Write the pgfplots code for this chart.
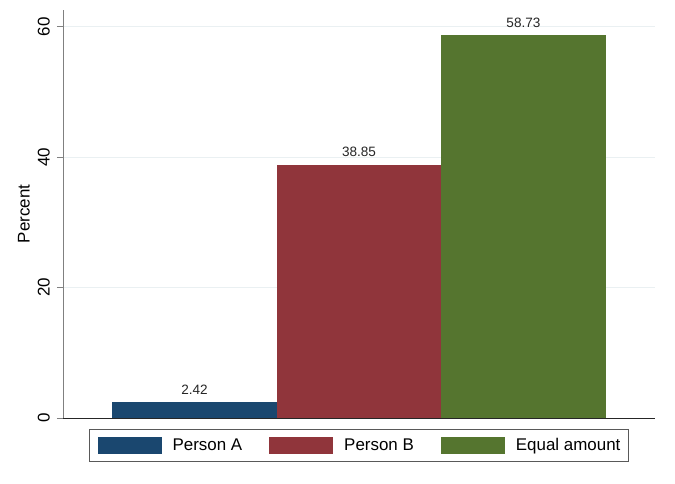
\documentclass[border=0pt]{standalone}
\usepackage{fontspec}
\setmainfont{Liberation Sans}
\usepackage{pgfplots}
\pgfplotsset{compat=1.18}

\definecolor{stnavy}{RGB}{26,71,111}
\definecolor{stmaroon}{RGB}{144,53,59}
\definecolor{stgreen}{RGB}{85,117,47}
\definecolor{stgrid}{RGB}{234,240,242}

\newcommand{\medfont}{\fontsize{17}{20}\selectfont}
\newcommand{\smallfont}{\fontsize{13.6}{16}\selectfont}

\pgfplotsset{
  statabar/.style={
    ybar, bar width=1, bar shift=0pt,
    draw=none, fill=#1,
    legend image code/.code={\fill[#1] (0bp,-8.7bp) rectangle (64bp,8.7bp);}
  }
}

\begin{document}
\begin{tikzpicture}
\path[use as bounding box, fill=white] (0,0) rectangle (675bp,484bp);
\begin{axis}[
  at={(63bp,66bp)}, anchor=south west,
  scale only axis, width=592bp, height=408bp,
  xmin=0.2, xmax=3.8, ymin=0, ymax=62.56,
  axis x line*=bottom, axis y line*=left,
  x axis line style={draw=black!85, line width=0.9bp, -},
  y axis line style={draw=black!50, line width=0.9bp, -},
  xtick=\empty,
  ytick={0,20,40,60},
  ymajorgrids, grid style={draw=stgrid, line width=0.9bp},
  tick align=outside, major tick length=6bp,
  y tick style={draw=black!50, line width=0.9bp},
  /pgf/number format/assume math mode=true,
  yticklabel style={rotate=90, anchor=south, font=\medfont, inner sep=0pt, yshift=7bp},
  ylabel={Percent},
  ylabel style={font=\medfont, at={(axis description cs:0,0.5)}, anchor=south, inner sep=0pt, yshift=33bp},
  nodes near coords,
  nodes near coords style={font=\smallfont, inner sep=0pt, anchor=south, yshift=7.5bp, text=black!85,
    /pgf/number format/.cd, fixed, precision=2, fixed zerofill},
  legend style={at={(0.5,-0.0674)}, anchor=center, legend columns=3,
    draw=black!65, line width=0.9bp, font=\medfont,
    inner xsep=8bp, inner ysep=7bp,
    nodes={inner sep=0pt},
    /tikz/every odd column/.style={column sep=11bp},
    /tikz/every even column/.style={column sep=27bp}},
  legend cell align=left,
]
\addplot[statabar=stnavy] coordinates {(1,2.42)};
\addplot[statabar=stmaroon] coordinates {(2,38.85)};
\addplot[statabar=stgreen] coordinates {(3,58.73)};
\legend{Person A, Person B, Equal amount}
\end{axis}
\end{tikzpicture}
\end{document}
